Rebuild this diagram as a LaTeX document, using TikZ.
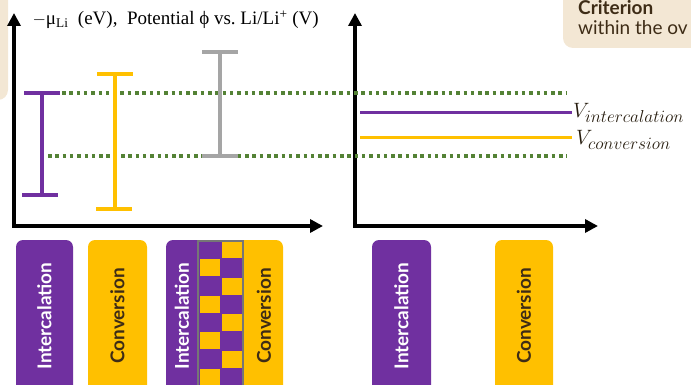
\documentclass[tikz,border=0pt]{standalone}
\usepackage{fontspec}
\setmainfont{Liberation Serif}
\newfontfamily\labelfont{Lato}
\usetikzlibrary{arrows.meta}

\definecolor{barpurple}{RGB}{112,48,160}
\definecolor{baryellow}{RGB}{255,192,0}
\definecolor{bargray}{RGB}{165,165,165}
\definecolor{framegray}{RGB}{118,118,118}
\definecolor{dotgreen}{RGB}{84,130,53}
\definecolor{boxbeige}{RGB}{243,231,212}
\definecolor{textbrown}{RGB}{62,44,22}

\newcommand\voltlabel[1]{\fontsize{22}{26}\selectfont
  $V_{\mbox{\fontsize{17}{20}\selectfont$#1$}}$}

\tikzset{
  axis/.style={line width=3.5pt, line join=miter,
    {Triangle[length=13pt,width=13pt]}-{Triangle[length=13pt,width=13pt]}},
  errbar/.style={line width=3.5pt},
  level/.style={dotgreen, line width=3.5pt, dash pattern=on 3.5pt off 3.8pt},
  vline/.style={line width=3pt},
  mechbox/.style={rotate=90, rounded corners=7pt, minimum width=152pt,
    font=\labelfont\bfseries\fontsize{19}{22}\selectfont},
  ibox/.style={mechbox, fill=barpurple, text=white},
  cbox/.style={mechbox, fill=baryellow, text=textbrown},
}

\begin{document}
\begin{tikzpicture}[x=1pt, y=-1pt]
  \clip (0,0) rectangle (691,385);
  % beige panels cut by the frame
  \fill[boxbeige, rounded corners=10pt] (-20,-20) rectangle (8,100);
  \fill[boxbeige, rounded corners=10pt] (563,-20) rectangle (720,48);
  \node[anchor=base west, inner sep=0pt, text=textbrown,
    font=\labelfont\bfseries\fontsize{19}{22}\selectfont] (crit) at (578,15) {Criterion};
  \node[anchor=base west, inner sep=0pt, text=textbrown,
    font=\labelfont\fontsize{19}{22}\selectfont] (within) at (578,35) {within the ov};

  % left axes
  \coordinate (ytop1) at (14,13);
  \coordinate (orig1) at (14,226);
  \coordinate (xend1) at (323,226);
  \draw[axis] (ytop1) -- (orig1) -- (xend1);
  \node[anchor=west, font=\fontsize{19}{22}\selectfont] (ylabel) at (29,20)
    {$-$μ\textsubscript{Li}\ \ (eV),\ \ Potential ϕ vs.\ Li/Li\textsuperscript{+} (V)};

  % right axes
  \coordinate (ytop2) at (355,13);
  \coordinate (orig2) at (355,226);
  \coordinate (xend2) at (598,226);
  \draw[axis] (ytop2) -- (orig2) -- (xend2);

  % overlap window
  \draw[level] (62,93) -- (567,93);
  \draw[level] (48,156) -- (567,156);

  % voltage windows
  \draw[errbar, barpurple] (24,93) -- (60,93) (42,93) -- (42,195) (22,195) -- (58,195);
  \draw[errbar, baryellow] (97,74) -- (133,74) (115,74) -- (115,209) (96,209) -- (132,209);
  \draw[errbar, bargray] (202,52) -- (238,52) (220,52) -- (220,156) (202,156) -- (238,156);

  % voltages inside the window
  \draw[vline, barpurple] (360,113) -- (572,113);
  \draw[vline, baryellow] (360,138) -- (572,138);
  \node[anchor=west, inner sep=1pt, text=textbrown!60!black]
    (vint) at (572,113) {\voltlabel{intercalation}};
  \node[anchor=west, inner sep=1pt, text=textbrown!60!black]
    (vcon) at (575,140) {\voltlabel{conversion}};

  % mechanism boxes
  \node[ibox, minimum height=57pt] (int1) at (44.5,316) {Intercalation};
  \node[cbox, minimum height=59pt] (con1) at (117.5,316) {Conversion};
  \node[ibox, minimum height=59pt] (int2) at (401.5,316) {Intercalation};
  \node[cbox, minimum height=58pt] (con2) at (524,316) {Conversion};

  % mixed box
  \fill[barpurple, rounded corners=7pt] (166,240) rectangle (215,392);
  \fill[baryellow, rounded corners=7pt] (228,240) rectangle (283,392);
  \fill[barpurple] (198,240) rectangle (243,392);
  \foreach \k in {0,2,4,6}
    \fill[baryellow] (222,241+18.25*\k) rectangle (242,241+18.25*\k+17);
  \foreach \k in {1,3,5,7}
    \fill[baryellow] (200,241+18.25*\k) rectangle (220,241+18.25*\k+17);
  \draw[framegray, line width=2.5pt] (198,241) rectangle (243,395);
  \node[mechbox, text=white] (int3) at (182,316) {Intercalation};
  \node[mechbox, text=textbrown] (con3) at (264,316) {Conversion};
\end{tikzpicture}
\end{document}
